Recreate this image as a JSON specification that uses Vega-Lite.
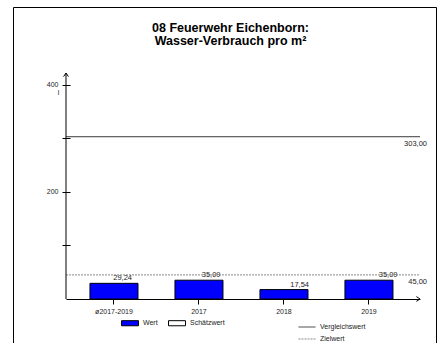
{
  "$schema": "https://vega.github.io/schema/vega-lite/v6.json",
  "width": 423,
  "height": 336,
  "padding": {"left": 13, "top": 7, "right": 4, "bottom": 0},
  "autosize": {"type": "none"},
  "background": "white",
  "title": {
    "text": ["08 Feuerwehr Eichenborn:", "Wasser-Verbrauch pro m²"],
    "anchor": "middle",
    "frame": "group",
    "font": "Liberation Sans",
    "fontSize": 12.5,
    "fontWeight": "bold",
    "color": "black",
    "lineHeight": 12.5,
    "offset": -40,
    "dx": 6
  },
  "config": {
    "locale": {"number": {"decimal": ",", "thousands": ".", "grouping": [3], "currency": ["", " €"]}},
    "view": {"stroke": "black", "strokeWidth": 1},
    "font": "Liberation Sans",
    "axis": {"labelFont": "Liberation Sans", "labelColor": "#222", "tickColor": "black", "domainColor": "black", "grid": false},
    "legend": {"labelFont": "Liberation Sans", "labelColor": "#222", "labelFontSize": 7, "padding": 0}
  },
  "datasets": {
    "balken": [
      {"Kategorie": "ø2017-2019", "Wert": 29.24, "Art": "Wert"},
      {"Kategorie": "2017", "Wert": 35.09, "Art": "Wert"},
      {"Kategorie": "2018", "Wert": 17.54, "Art": "Wert"},
      {"Kategorie": "2019", "Wert": 35.09, "Art": "Wert"}
    ],
    "linien": [
      {"Linie": "Vergleichswert", "Wert": 303},
      {"Linie": "Zielwert", "Wert": 45}
    ],
    "achse": [{"Achse": "y"}]
  },
  "resolve": {"scale": {"x": "independent"}, "axis": {"x": "independent"}},
  "layer": [
    {
      "data": {"name": "balken"},
      "mark": {"type": "bar", "stroke": "black", "strokeWidth": 1},
      "encoding": {
        "x": {
          "field": "Kategorie", "type": "nominal", "sort": null,
          "scale": {"range": [53, 407], "paddingInner": 0.435, "paddingOuter": 0.3, "align": 0.47},
          "axis": {"title": null, "orient": "bottom", "offset": -44, "labelAngle": 0, "labelFontSize": 7, "tickSize": 5, "labelPadding": 3, "domainWidth": 1}
        },
        "y": {
          "field": "Wert", "type": "quantitative",
          "scale": {"domain": [0, 422], "range": [292, 66], "nice": false, "zero": true},
          "axis": {
            "orient": "left", "offset": -57, "values": [100, 200, 300, 400],
            "labelExpr": "datum.value == 200 || datum.value == 400 ? datum.label : ''",
            "domain": false, "tickSize": 8, "labelFontSize": 7, "labelPadding": 4,
            "title": "l", "titleAngle": 0, "titleX": -12, "titleY": 85, "titleBaseline": "middle", "titleAlign": "center",
            "titleFontSize": 7, "titleFontWeight": "normal", "titleColor": "#222"
          }
        },
        "fill": {
          "field": "Art", "type": "nominal",
          "scale": {"domain": ["Wert", "Schätzwert"], "range": ["#0000ff", "#ffffff"]},
          "legend": {
            "title": null, "orient": "none", "legendX": 108, "legendY": 307, "direction": "horizontal",
            "symbolType": "M-1,-0.3H1V0.3H-1Z", "symbolSize": 289, "symbolStrokeColor": "black", "symbolStrokeWidth": 1,
            "labelOffset": 4, "columnPadding": 8
          }
        }
      }
    },
    {
      "data": {"name": "balken"},
      "mark": {"type": "text", "fontSize": 7.5, "baseline": "bottom", "dx": 15, "dy": -1, "color": "#222"},
      "encoding": {
        "x": {
          "field": "Kategorie", "type": "nominal", "sort": null,
          "scale": {"range": [53, 407], "paddingInner": 0.435, "paddingOuter": 0.3, "align": 0.47},
          "axis": null
        },
        "y": {"field": "Wert", "type": "quantitative"},
        "text": {"field": "Wert", "type": "quantitative", "format": ".2f"}
      }
    },
    {
      "data": {"name": "linien"},
      "mark": {"type": "rule", "strokeWidth": 1},
      "encoding": {
        "x": {"datum": 0, "type": "quantitative", "scale": {"domain": [0, 1], "range": [53, 407], "nice": false, "zero": false}, "axis": null},
        "x2": {"datum": 1},
        "y": {"field": "Wert", "type": "quantitative"},
        "stroke": {
          "field": "Linie", "type": "nominal",
          "scale": {"domain": ["Vergleichswert", "Zielwert"], "range": ["#3a3a3a", "#8a8a8a"]},
          "legend": {"title": null, "orient": "none", "legendX": 285, "legendY": 311, "direction": "vertical", "symbolType": "stroke", "symbolSize": 289, "symbolStrokeWidth": 1, "labelOffset": 4, "rowPadding": 0}
        },
        "strokeDash": {
          "field": "Linie", "type": "nominal",
          "scale": {"domain": ["Vergleichswert", "Zielwert"], "range": [[1, 0], [2, 1]]},
          "legend": {"title": null, "orient": "none", "legendX": 285, "legendY": 311, "direction": "vertical", "symbolType": "stroke", "symbolSize": 289, "symbolStrokeWidth": 1, "labelOffset": 4, "rowPadding": 0}
        }
      }
    },
    {
      "data": {"name": "linien"},
      "mark": {"type": "text", "fontSize": 7.5, "align": "right", "baseline": "middle", "dx": 7, "dy": 7, "color": "#222"},
      "encoding": {
        "x": {"datum": 1, "type": "quantitative", "scale": {"domain": [0, 1], "range": [53, 407], "nice": false, "zero": false}, "axis": null},
        "y": {"field": "Wert", "type": "quantitative"},
        "text": {"field": "Wert", "type": "quantitative", "format": ".2f"}
      }
    },
    {
      "data": {"name": "achse"},
      "mark": {"type": "rule", "stroke": "black", "strokeWidth": 1},
      "encoding": {
        "x": {"datum": 0, "type": "quantitative", "scale": {"domain": [0, 1], "range": [53, 407], "nice": false, "zero": false}, "axis": null},
        "y": {"datum": 0, "type": "quantitative"},
        "y2": {"datum": 422}
      }
    },
    {
      "data": {"name": "achse"},
      "mark": {"type": "point", "shape": "M-0.8,1.2L0,0L0.8,1.2", "size": 36, "filled": false, "stroke": "black", "strokeWidth": 1, "opacity": 1},
      "encoding": {
        "x": {"datum": 0, "type": "quantitative", "scale": {"domain": [0, 1], "range": [53, 407], "nice": false, "zero": false}, "axis": null},
        "y": {"datum": 422, "type": "quantitative"}
      }
    },
    {
      "data": {"name": "achse"},
      "mark": {"type": "point", "shape": "M-1.2,-0.8L0,0L-1.2,0.8", "size": 36, "filled": false, "stroke": "black", "strokeWidth": 1, "opacity": 1},
      "encoding": {
        "x": {"datum": 1, "type": "quantitative", "scale": {"domain": [0, 1], "range": [53, 407], "nice": false, "zero": false}, "axis": null},
        "y": {"datum": 0, "type": "quantitative"}
      }
    }
  ]
}
